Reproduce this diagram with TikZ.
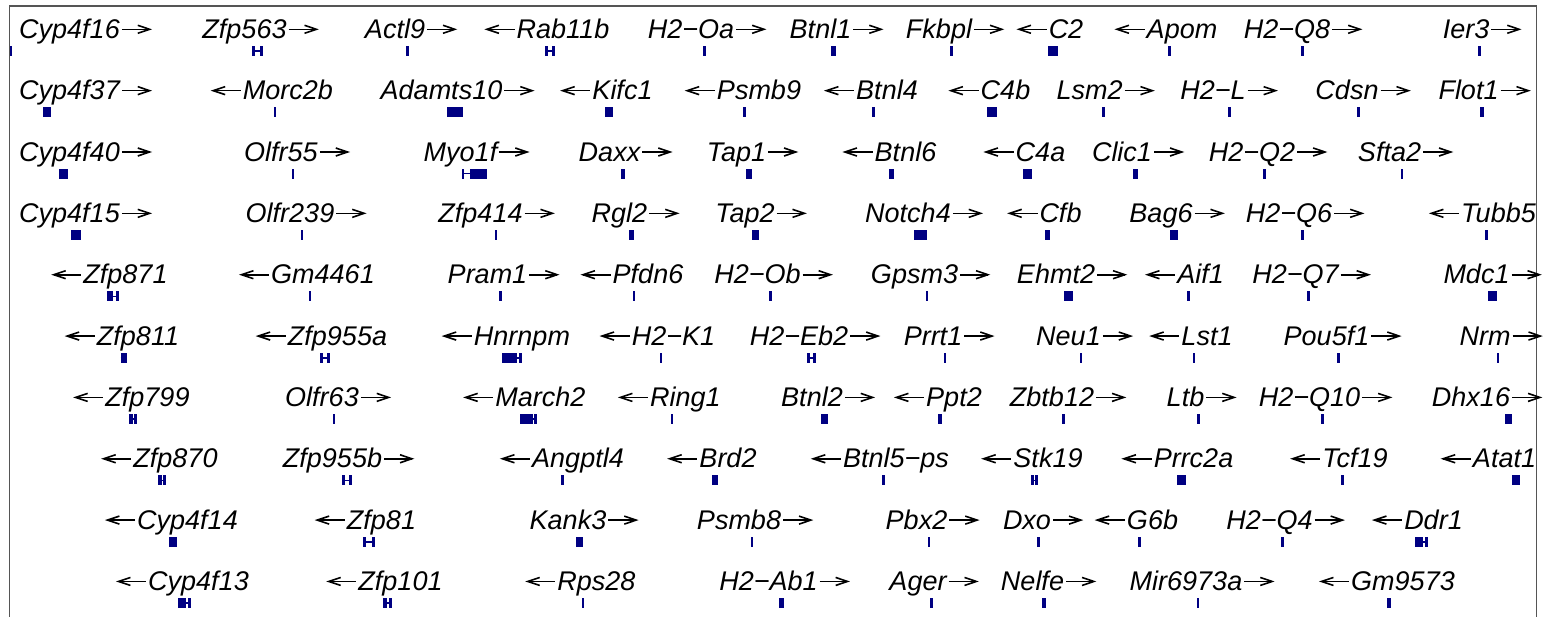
\documentclass[tikz,border=0pt]{standalone}
\usepackage{fontspec}
\setmainfont{Liberation Sans}
\definecolor{genec}{RGB}{0,0,130}
\definecolor{framec}{RGB}{85,85,85}
\tikzset{
  lab/.style={anchor=base, inner sep=0pt, font=\fontsize{27}{30}\selectfont\itshape},
  genefill/.style={fill=genec},
  arr/.style={line width=1.6pt, black, line cap=butt, line join=miter},
}
\newcommand{\ra}{\tikz[baseline=0pt]{\path (0pt,0pt) (31pt,0pt);
  \draw[arr] (2pt,9.2pt) -- (29.5pt,9.2pt);
  \draw[arr] (18pt,13.2pt) -- (29.8pt,9.2pt) -- (18pt,5.2pt);}}
\newcommand{\la}{\tikz[baseline=0pt]{\path (0pt,0pt) (31pt,0pt);
  \draw[arr] (1.5pt,9.2pt) -- (29pt,9.2pt);
  \draw[arr] (13.2pt,13.2pt) -- (1.2pt,9.2pt) -- (13.2pt,5.2pt);}}
\newcommand{\gb}[3]{\fill[genefill] (#2,{46+61.35*#1}) rectangle (#3,{56+61.35*#1});}
\newcommand{\gh}[3]{\fill[genefill] (#2,{46+61.35*#1}) rectangle ({#2+3},{56+61.35*#1});
  \fill[genefill] ({#3-3},{46+61.35*#1}) rectangle (#3,{56+61.35*#1});
  \draw[genec,line width=1.5pt] (#2,{51+61.35*#1}) -- (#3,{51+61.35*#1});}
\newcommand{\lb}[4]{\node[lab] (#1) at (#2,{38.5+61.35*#3}) {#4};}
\begin{document}
\begin{tikzpicture}[x=1pt,y=-1pt]
\useasboundingbox (0,0) rectangle (1545,616);
\clip (0,0) rectangle (1545,616);
\draw[framec, line width=1.5pt] (9.5,6) rectangle (1536.5,650);
% row 0
\lb{Cyp4f16}{85}{0}{Cyp4f16\ra}
\lb{Zfp563}{260}{0}{Zfp563\ra}
\lb{Actl9}{410.5}{0}{Actl9\ra}
\lb{Rab11b}{547.5}{0}{\la Rab11b}
\lb{H2Oa}{706.5}{0}{H2−Oa\ra}
\lb{Btnl1}{836}{0}{Btnl1\ra}
\lb{Fkbpl}{954.5}{0}{Fkbpl\ra}
\lb{C2}{1050.5}{0}{\la C2}
\lb{Apom}{1166.5}{0}{\la Apom}
\lb{H2Q8}{1302.5}{0}{H2−Q8\ra}
\lb{Ier3}{1481.5}{0}{Ier3\ra}
\gb{0}{9.5}{12}
\gh{0}{252}{263}
\gb{0}{406}{408.5}
\gh{0}{545}{555}
\gb{0}{703}{706}
\gb{0}{831}{835.5}
\gb{0}{950}{952.5}
\gb{0}{1048}{1058}
\gb{0}{1168}{1170.5}
\gb{0}{1301}{1303.5}
\gb{0}{1478}{1480.5}
% row 1
\lb{Cyp4f37}{85}{1}{Cyp4f37\ra}
\lb{Morc2b}{272.5}{1}{\la Morc2b}
\lb{Adamts10}{457}{1}{Adamts10\ra}
\lb{Kifc1}{607}{1}{\la Kifc1}
\lb{Psmb9}{743.5}{1}{\la Psmb9}
\lb{Btnl4}{871.5}{1}{\la Btnl4}
\lb{C4b}{990}{1}{\la C4b}
\lb{Lsm2}{1105}{1}{Lsm2\ra}
\lb{H2L}{1228.5}{1}{H2−L\ra}
\lb{Cdsn}{1362.5}{1}{Cdsn\ra}
\lb{Flot1}{1484}{1}{Flot1\ra}
\gb{1}{43}{51}
\gb{1}{273.5}{276}
\gb{1}{447}{463}
\gb{1}{605}{613}
\gb{1}{743}{746}
\gb{1}{872}{875}
\gb{1}{987}{997}
\gb{1}{1102}{1105}
\gb{1}{1228}{1231}
\gb{1}{1357}{1360}
\gb{1}{1480}{1484}
% row 2
\lb{Cyp4f40}{85}{2}{Cyp4f40\ra}
\lb{Olfr55}{296.5}{2}{Olfr55\ra}
\lb{Myo1f}{476}{2}{Myo1f\ra}
\lb{Daxx}{625}{2}{Daxx\ra}
\lb{Tap1}{752}{2}{Tap1\ra}
\lb{Btnl6}{890}{2}{\la Btnl6}
\lb{C4a}{1025}{2}{\la C4a}
\lb{Clic1}{1137.5}{2}{Clic1\ra}
\lb{H2Q2}{1267.5}{2}{H2−Q2\ra}
\lb{Sfta2}{1405}{2}{Sfta2\ra}
\gb{2}{59}{68}
\gb{2}{291.5}{293.5}
\gb{2}{462}{464}
\draw[genec,line width=1.5pt] (462,{51+61.35*2}) -- (470,{51+61.35*2});
\gb{2}{470}{487}
\gb{2}{621}{624.5}
\gb{2}{746}{751.5}
\gb{2}{889}{894}
\gb{2}{1023}{1032}
\gb{2}{1133}{1138}
\gb{2}{1263}{1266}
\gb{2}{1401}{1403}
% row 3
\lb{Cyp4f15}{85}{3}{Cyp4f15\ra}
\lb{Olfr239}{305.5}{3}{Olfr239\ra}
\lb{Zfp414}{496}{3}{Zfp414\ra}
\lb{Rgl2}{635}{3}{Rgl2\ra}
\lb{Tap2}{760.5}{3}{Tap2\ra}
\lb{Notch4}{923.5}{3}{Notch4\ra}
\lb{Cfb}{1045}{3}{\la Cfb}
\lb{Bag6}{1176.5}{3}{Bag6\ra}
\lb{H2Q6}{1304.5}{3}{H2−Q6\ra}
\lb{Tubb5}{1483}{3}{\la Tubb5}
\gb{3}{71}{81}
\gb{3}{301}{303}
\gb{3}{494.5}{497}
\gb{3}{629}{634}
\gb{3}{752}{759}
\gb{3}{914}{927}
\gb{3}{1045}{1050}
\gb{3}{1170}{1178}
\gb{3}{1301}{1304}
\gb{3}{1484.5}{1487.5}
% row 4
\lb{Zfp871}{110}{4}{\la Zfp871}
\lb{Gm4461}{307.5}{4}{\la Gm4461}
\lb{Pram1}{503}{4}{Pram1\ra}
\lb{Pfdn6}{632.5}{4}{\la Pfdn6}
\lb{H2Ob}{773}{4}{H2−Ob\ra}
\lb{Gpsm3}{930}{4}{Gpsm3\ra}
\lb{Ehmt2}{1071.5}{4}{Ehmt2\ra}
\lb{Aif1}{1185}{4}{\la Aif1}
\lb{H2Q7}{1311}{4}{H2−Q7\ra}
\lb{Mdc1}{1492}{4}{Mdc1\ra}
\gh{4}{107}{119}
\gb{4}{107}{113}
\gb{4}{309}{311}
\gb{4}{498.5}{502}
\gb{4}{633}{635}
\gb{4}{768.5}{772}
\gb{4}{925.5}{928}
\gb{4}{1064}{1073}
\gb{4}{1187}{1189.5}
\gb{4}{1307}{1310}
\gb{4}{1488}{1497}
% row 5
\lb{Zfp811}{122.5}{5}{\la Zfp811}
\lb{Zfp955a}{322}{5}{\la Zfp955a}
\lb{Hnrnpm}{506.5}{5}{\la Hnrnpm}
\lb{H2K1}{658}{5}{\la H2−K1}
\lb{H2Eb2}{814.5}{5}{H2−Eb2\ra}
\lb{Prrt1}{948.5}{5}{Prrt1\ra}
\lb{Neu1}{1084}{5}{Neu1\ra}
\lb{Lst1}{1191.5}{5}{\la Lst1}
\lb{Pou5f1}{1342}{5}{Pou5f1\ra}
\lb{Nrm}{1500.5}{5}{Nrm\ra}
\gh{5}{120.5}{127}
\gh{5}{320}{330}
\gb{5}{502}{514}
\gh{5}{514}{522}
\gb{5}{660}{662}
\gh{5}{807}{816}
\gb{5}{944}{946}
\gb{5}{1079.5}{1082}
\gb{5}{1192.5}{1195}
\gb{5}{1337}{1340}
\gb{5}{1497}{1499}
% row 6
\lb{Zfp799}{132}{6}{\la Zfp799}
\lb{Olfr63}{337.5}{6}{Olfr63\ra}
\lb{March2}{525}{6}{\la March2}
\lb{Ring1}{670}{6}{\la Ring1}
\lb{Btnl2}{827.5}{6}{Btnl2\ra}
\lb{Ppt2}{938.5}{6}{\la Ppt2}
\lb{Zbtb12}{1067.5}{6}{Zbtb12\ra}
\lb{Ltb}{1201}{6}{Ltb\ra}
\lb{H2Q10}{1325}{6}{H2−Q10\ra}
\lb{Dhx16}{1486.5}{6}{Dhx16\ra}
\gh{6}{129}{137}
\gb{6}{129}{133}
\gb{6}{332.5}{334.5}
\gb{6}{520}{532}
\gh{6}{530}{537}
\gb{6}{671}{673}
\gb{6}{821}{828}
\gb{6}{937.5}{941.5}
\gb{6}{1062}{1064.5}
\gb{6}{1197}{1199.5}
\gb{6}{1320.5}{1323.5}
\gb{6}{1505}{1512}
% row 7
\lb{Zfp870}{160}{7}{\la Zfp870}
\lb{Zfp955b}{348}{7}{Zfp955b\ra}
\lb{Angptl4}{562.5}{7}{\la Angptl4}
\lb{Brd2}{712.5}{7}{\la Brd2}
\lb{Btnl5ps}{880.5}{7}{\la Btnl5−ps}
\lb{Stk19}{1032.5}{7}{\la Stk19}
\lb{Prrc2a}{1178}{7}{\la Prrc2a}
\lb{Tcf19}{1339.5}{7}{\la Tcf19}
\lb{Atat1}{1489}{7}{\la Atat1}
\gh{7}{158}{166}
\gb{7}{158}{162}
\gh{7}{342}{352}
\gb{7}{561}{564}
\gb{7}{711.5}{717.5}
\gb{7}{881.5}{885}
\gh{7}{1031}{1038}
\gb{7}{1177}{1186}
\gb{7}{1341}{1343.5}
\gb{7}{1512}{1520}
% row 8
\lb{Cyp4f14}{172}{8}{\la Cyp4f14}
\lb{Zfp81}{366}{8}{\la Zfp81}
\lb{Kank3}{583.5}{8}{Kank3\ra}
\lb{Psmb8}{754.5}{8}{Psmb8\ra}
\lb{Pbx2}{932}{8}{Pbx2\ra}
\lb{Dxo}{1042.5}{8}{Dxo\ra}
\lb{G6b}{1137}{8}{\la G6b}
\lb{H2Q4}{1285}{8}{H2−Q4\ra}
\lb{Ddr1}{1418}{8}{\la Ddr1}
\gb{8}{169}{177}
\gh{8}{363}{375}
\gb{8}{576}{583}
\gb{8}{750.5}{752.5}
\gb{8}{927.5}{930}
\gb{8}{1037}{1039.5}
\gb{8}{1138}{1140.5}
\gb{8}{1280.5}{1283.5}
\gb{8}{1415}{1422}
\gh{8}{1420}{1428}
% row 9
\lb{Cyp4f13}{183}{9}{\la Cyp4f13}
\lb{Zfp101}{385}{9}{\la Zfp101}
\lb{Rps28}{581}{9}{\la Rps28}
\lb{H2Ab1}{784}{9}{H2−Ab1\ra}
\lb{Ager}{933.5}{9}{Ager\ra}
\lb{Nelfe}{1048}{9}{Nelfe\ra}
\lb{Mir6973a}{1201.5}{9}{Mir6973a\ra}
\lb{Gm9573}{1387.5}{9}{\la Gm9573}
\gb{9}{178}{184}
\gh{9}{183}{191}
\gh{9}{383}{392}
\gb{9}{383}{387}
\gb{9}{582}{584}
\gb{9}{779}{783.5}
\gb{9}{929.5}{932.5}
\gb{9}{1042}{1046}
\gb{9}{1197}{1199}
\gb{9}{1386.5}{1391}
\end{tikzpicture}
\end{document}
